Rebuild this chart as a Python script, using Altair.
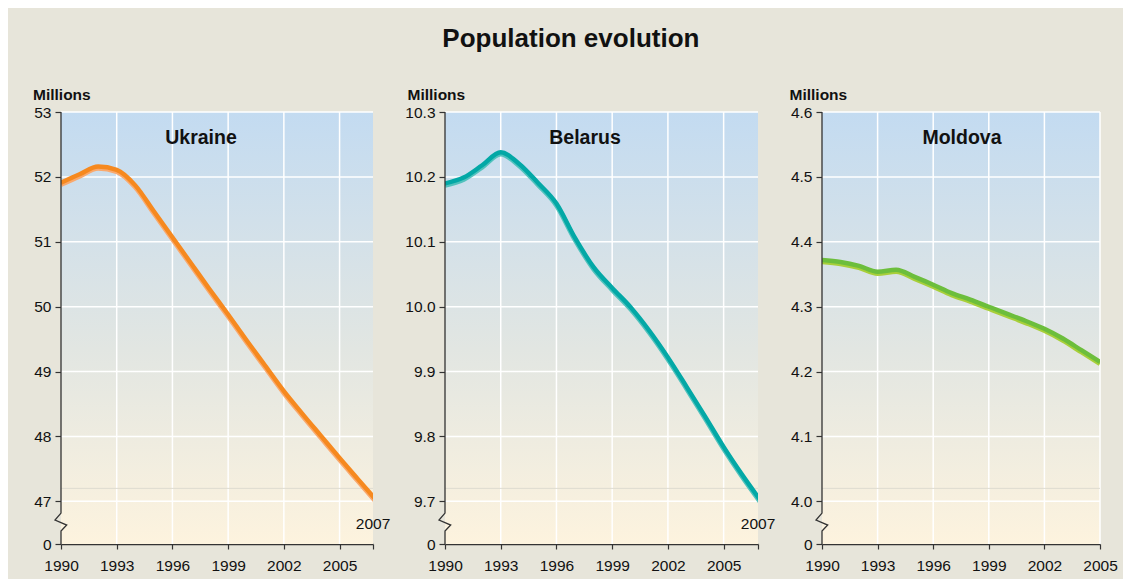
import altair as alt
import pandas as pd

# ---------------- data ----------------
ukraine_years = list(range(1990, 2008))
ukraine_pop = [51.90, 52.03, 52.15, 52.10, 51.86, 51.46, 51.06, 50.66, 50.26,
               49.87, 49.47, 49.08, 48.69, 48.34, 48.00, 47.66, 47.33, 47.00]

belarus_years = list(range(1990, 2008))
belarus_pop = [10.189, 10.198, 10.217, 10.237, 10.219, 10.190, 10.158, 10.105, 10.060,
               10.028, 9.998, 9.962, 9.921, 9.876, 9.830, 9.783, 9.740, 9.700]

moldova_years = list(range(1990, 2006))
moldova_pop = [4.371, 4.368, 4.362, 4.353, 4.356, 4.345, 4.333, 4.320, 4.310,
               4.299, 4.288, 4.277, 4.265, 4.250, 4.232, 4.214]

x_ticks = [1990, 1993, 1996, 1999, 2002, 2005]
ukraine_yticks = [47, 48, 49, 50, 51, 52, 53]
belarus_yticks = [9.7, 9.8, 9.9, 10.0, 10.1, 10.2, 10.3]
moldova_yticks = [4.0, 4.1, 4.2, 4.3, 4.4, 4.5, 4.6]

TITLE = "Population evolution"
UNIT = "Millions"
END_LABEL = "2007"

FONT = "Liberation Sans"
H = 432
BREAK_FRAC = 0.9013  # fraction of plot height above the axis break


def panel(name, years, values, yticks, fmt, x_end, width, millions_x,
          main_col, light_col, end_label):
    lo, hi = yticks[0], yticks[-1]
    ymin = hi - (hi - lo) / BREAK_FRAC
    ppu = H / (hi - ymin)
    ppx = width / (x_end - 1990)

    xs = alt.Scale(domain=[1990, x_end], nice=False, zero=False)
    ys = alt.Scale(domain=[ymin, hi], nice=False, zero=False)

    xvals = list(x_ticks) + ([x_end] if end_label else [])
    yvals = [ymin] + list(yticks)

    df = pd.DataFrame({"year": years, "pop": values})

    bg = alt.Chart(pd.DataFrame({"a": [0]})).mark_rect(
        fill=alt.Gradient(
            gradient="linear",
            stops=[alt.GradientStop(color="#C3DBF1", offset=0),
                   alt.GradientStop(color="#E2E6E2", offset=0.55),
                   alt.GradientStop(color="#FDF3DE", offset=1)],
            x1=0, x2=0, y1=0, y2=1)
    ).encode(x=alt.value(0), x2=alt.value(width), y=alt.value(0), y2=alt.value(H))

    vgrid = alt.Chart(pd.DataFrame({"x": x_ticks[1:]})).mark_rule(
        color="white", strokeWidth=1.5).encode(x=alt.X("x:Q", scale=xs))
    hgrid = alt.Chart(pd.DataFrame({"y": list(yticks)})).mark_rule(
        color="white", strokeWidth=1.5).encode(y=alt.Y("y:Q", scale=ys))
    band = alt.Chart(pd.DataFrame({"y": [lo + 13 / ppu]})).mark_rule(
        color="#DEDBD0", strokeWidth=1).encode(y=alt.Y("y:Q", scale=ys))

    light = alt.Chart(df).mark_line(
        color=light_col, strokeWidth=5, interpolate="monotone", yOffset=1.2,
        clip=True, strokeCap="butt").encode(
        x=alt.X("year:Q", scale=xs), y=alt.Y("pop:Q", scale=ys))
    main = alt.Chart(df).mark_line(
        color=main_col, strokeWidth=4.4, interpolate="monotone", yOffset=-0.6,
        clip=True, strokeCap="butt").encode(
        x=alt.X("year:Q", scale=xs,
                axis=alt.Axis(values=xvals, format="d",
                              labelExpr="datum.value > 2006 ? '' : datum.label",
                              labelFlush=False, labelAlign="center",
                              grid=False, domainColor="#333", domainWidth=1.5,
                              tickColor="#333", tickSize=5, tickWidth=1.2,
                              labelFontSize=15.5, labelColor="#111", labelPadding=9,
                              labelFont=FONT, title=None)),
        y=alt.Y("pop:Q", scale=ys,
                axis=alt.Axis(values=yvals,
                              labelExpr=f"datum.value < {lo - 0.01 * (hi - lo)} ? '0' : format(datum.value, '{fmt}')",
                              labelFlush=False,
                              grid=False, domain=False, tickColor="#333",
                              tickSize=6, tickWidth=1.2, labelFontSize=15.5,
                              labelColor="#111", labelPadding=4, labelFont=FONT,
                              title=UNIT, titleAngle=0, titleAlign="left",
                              titleBaseline="alphabetic", titleX=millions_x,
                              titleY=-13, titleFontSize=15.5, titleFontWeight="bold",
                              titleFont=FONT, titleColor="#111")))

    # left axis line with break symbol
    dys = [11.7, 18.7, 23.7, 29.7]
    dxs = [0, -6, 5.7, 0]
    brk = pd.DataFrame({
        "i": list(range(6)),
        "x": [1990] + [1990 + d / ppx for d in dxs] + [1990],
        "y": [hi] + [lo - d / ppu for d in dys] + [ymin],
    })
    axis_line = alt.Chart(brk).mark_line(color="#333", strokeWidth=1.3, clip=False).encode(
        x=alt.X("x:Q", scale=xs), y=alt.Y("y:Q", scale=ys), order="i:Q")

    name_txt = alt.Chart(pd.DataFrame({"t": [name]})).mark_text(
        font=FONT, fontSize=19.5, fontWeight="bold", color="#111",
        align="center", baseline="alphabetic").encode(
        text="t:N", x=alt.value(140), y=alt.value(31.5))

    layers = [bg, vgrid, hgrid, band, light, main, axis_line, name_txt]
    if end_label:
        end_txt = alt.Chart(pd.DataFrame({"t": [end_label], "x": [x_end]})).mark_text(
            font=FONT, fontSize=15.5, color="#111", align="center",
            baseline="middle").encode(text="t:N", x=alt.X("x:Q", scale=xs),
                                       y=alt.value(411.5))
        layers.append(end_txt)

    return alt.layer(*layers).properties(width=width, height=H)


u = panel("Ukraine", ukraine_years, ukraine_pop, ukraine_yticks, "d", 2006.8, 312, -28.5,
          "#F6891F", "#F9A96E", END_LABEL)
b = panel("Belarus", belarus_years, belarus_pop, belarus_yticks, ".1f", 2006.85, 313, -38,
          "#03A8A6", "#52C2BD", END_LABEL)
m = panel("Moldova", moldova_years, moldova_pop, moldova_yticks, ".1f", 2005, 278, -33,
          "#6CBE3C", "#A8CF3A", None)

chart = alt.hconcat(u, b, m, spacing=13).properties(
    title=alt.TitleParams(TITLE, fontSize=26, fontWeight="bold", font=FONT,
                          color="#111", anchor="middle", offset=35, dx=-4),
    padding={"left": 24, "top": 18, "right": 5, "bottom": 5},
).configure(background="#E7E5DA").configure_view(stroke=None)

chart.save("out.html", embed_options={"renderer": "svg", "actions": False})
